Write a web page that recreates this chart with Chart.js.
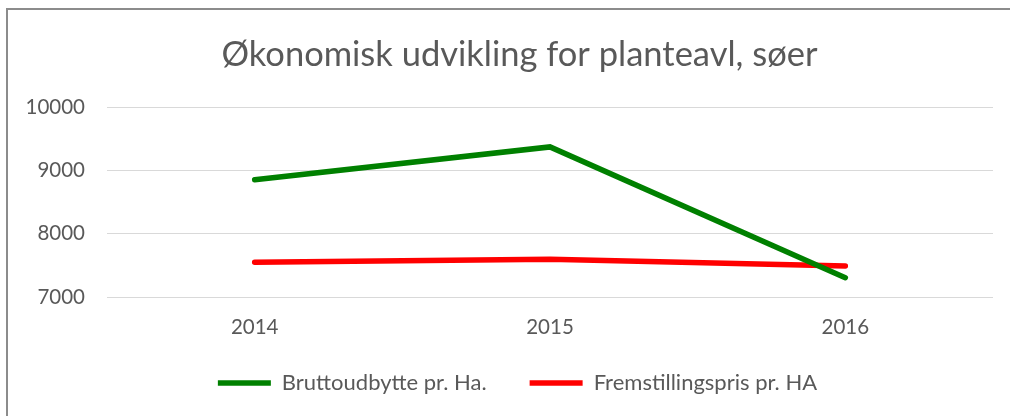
<!DOCTYPE html>
<html>
<head>
<meta charset="utf-8">
<script src="https://cdn.jsdelivr.net/npm/chart.js@4"></script>
<style>
  html, body { margin: 0; padding: 0; background: #fff; }
  #wrap { position: relative; width: 1010px; height: 416px; }
  #frame { position: absolute; left: 6px; top: 8px; right: -4px; bottom: -4px; border: 2px solid #8c8c8c; }
  canvas { position: absolute; left: 0; top: 0; }
</style>
</head>
<body>
<div id="wrap">
  <div id="frame"></div>
  <canvas id="chart" width="1010" height="416"></canvas>
</div>
<script>
const years = ["2014", "2015", "2016"];
const bruttoudbytte = [8850, 9370, 7305];
const fremstillingspris = [7550, 7595, 7490];
const seriesNames = ["Bruttoudbytte pr. Ha.", "Fremstillingspris pr. HA"];

const textColor = "#595959";
const fontFamily = "Lato, 'Open Sans', sans-serif";

// nudge title and legend to where Excel put them
const shiftBoxes = {
  id: "shiftBoxes",
  afterLayout(chart) {
    chart.titleBlock.left += 23;
    chart.titleBlock.right += 23;
    chart.legend.left += 21;
    chart.legend.right += 21;
    chart.legend.top -= 28;
    chart.legend.bottom -= 28;
  }
};

new Chart(document.getElementById("chart").getContext("2d"), {
  type: "line",
  data: {
    labels: years,
    datasets: [
      {
        label: seriesNames[0],
        data: bruttoudbytte,
        borderColor: "#008000",
        backgroundColor: "#008000",
        borderWidth: 5.5,
        borderCapStyle: "round",
        pointRadius: 0,
        tension: 0
      },
      {
        label: seriesNames[1],
        data: fremstillingspris,
        borderColor: "#ff0000",
        backgroundColor: "#ff0000",
        borderWidth: 5.5,
        borderCapStyle: "round",
        pointRadius: 0,
        tension: 0
      }
    ]
  },
  options: {
    responsive: false,
    animation: false,
    layout: { padding: { left: 0, right: 17, top: 0, bottom: -16 } },
    plugins: {
      title: {
        display: true,
        text: "Økonomisk udvikling for planteavl, søer",
        color: textColor,
        font: { family: fontFamily, size: 34.5, weight: "normal" },
        padding: { top: 34, bottom: 31.6 }
      },
      legend: {
        position: "bottom",
        labels: {
          color: textColor,
          font: { family: fontFamily, size: 22 },
          usePointStyle: true,
          pointStyle: "line",
          pointStyleWidth: 53,
          padding: 43
        }
      },
      tooltip: { enabled: false }
    },
    scales: {
      x: {
        offset: true,
        grid: { display: false, drawTicks: false },
        border: { display: false },
        ticks: { color: textColor, font: { family: fontFamily, size: 20.5 }, padding: 17.7 }
      },
      y: {
        min: 7000,
        max: 10000,
        ticks: {
          stepSize: 1000,
          color: textColor,
          font: { family: fontFamily, size: 20.5 },
          padding: 22,
          callback: (v) => String(v)
        },
        grid: { color: "#d9d9d9", lineWidth: 1, drawTicks: false },
        border: { display: false },
        afterFit(scale) { scale.width = 107; }
      }
    }
  },
  plugins: [shiftBoxes]
});
</script>
</body>
</html>
